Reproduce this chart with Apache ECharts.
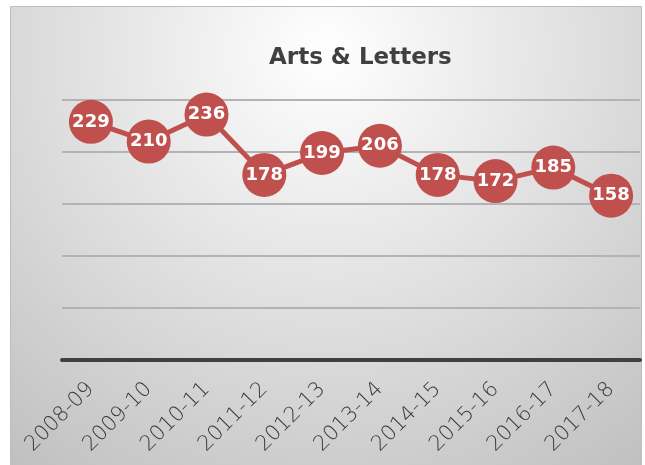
<!DOCTYPE html>
<html>
<head>
<meta charset="utf-8">
<script src="https://cdn.jsdelivr.net/npm/echarts@6/dist/echarts.min.js"></script>
<style>
html,body{margin:0;padding:0;background:#ffffff;}
#chart{width:645px;height:465px;}
</style>
</head>
<body>
<div id="chart"></div>
<script>
const categories = ['2008-09','2009-10','2010-11','2011-12','2012-13','2013-14','2014-15','2015-16','2016-17','2017-18'];
const values = [229, 210, 236, 178, 199, 206, 178, 172, 185, 158];
const titleText = 'Arts & Letters';

const chart = echarts.init(document.getElementById('chart'), null, {renderer: 'canvas'});
chart.setOption({
  animation: false,
  backgroundColor: '#ffffff',
  graphic: [{
    type: 'rect',
    z: -10,
    silent: true,
    shape: {x: 10.5, y: 6.5, width: 631, height: 470},
    style: {
      fill: {
        type: 'radial', x: 0.5, y: 0.1, r: 1.1,
        colorStops: [{offset: 0, color: '#ffffff'}, {offset: 1, color: '#c0c0c0'}]
      },
      stroke: '#bdbdbd', lineWidth: 1
    }
  }],
  title: {
    text: titleText,
    left: 264,
    top: 42,
    textStyle: {fontFamily: 'DejaVu Sans', fontWeight: 'bold', fontSize: 23, color: '#404040'}
  },
  grid: {left: 62, right: 5, top: 100, bottom: 105},
  xAxis: {
    type: 'category',
    data: categories,
    boundaryGap: true,
    axisLine: {lineStyle: {color: '#404040', width: 4}},
    axisTick: {show: false},
    axisLabel: {rotate: 45, margin: 26, color: '#383838', fontFamily: 'DejaVu Sans', fontWeight: 200, fontSize: 21}
  },
  yAxis: {
    type: 'value',
    min: 0, max: 250, interval: 50,
    axisLabel: {show: false},
    axisLine: {show: false},
    axisTick: {show: false},
    splitLine: {lineStyle: {color: '#b3b3b3', width: 2}}
  },
  series: [{
    type: 'line',
    data: values,
    symbol: 'circle',
    symbolSize: 44,
    lineStyle: {color: '#c0504d', width: 5},
    itemStyle: {color: '#c0504d'},
    label: {
      show: true, position: 'inside', color: '#ffffff',
      fontFamily: 'DejaVu Sans', fontWeight: 'bold', fontSize: 18
    }
  }]
});
</script>
</body>
</html>
